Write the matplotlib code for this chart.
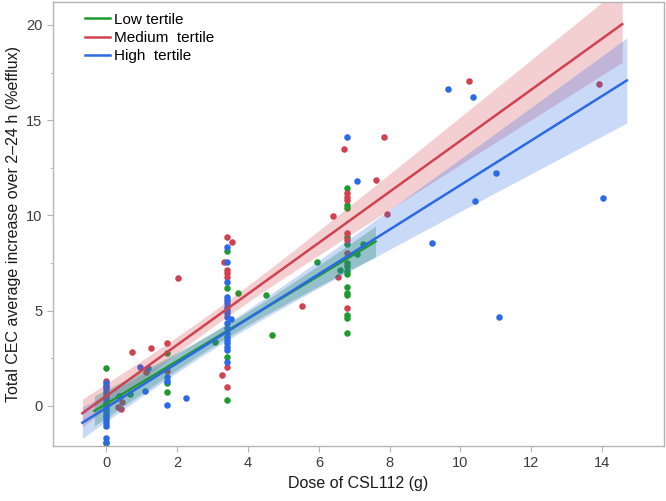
import numpy as np
import matplotlib
matplotlib.use("Agg")
import matplotlib.pyplot as plt
from matplotlib.ticker import MultipleLocator

plt.rcParams['font.family'] = ['Liberation Sans', 'DejaVu Sans']

# ---------------- data ----------------
low_x = [0, 0, 0.66, 1.7, 1.7, 1.7, 3.06, 3.4, 3.4, 3.73, 4.52, 4.69, 3.4, 3.4,
         5.94, 6.79, 6.79, 6.79, 6.79, 6.79, 7.24, 7.07, 6.79, 6.79, 6.6, 6.79,
         6.79, 6.79, 6.79, 6.79, 6.79, 6.79, 6.79]
low_y = [1.98, -1.96, 0.62, 2.77, 1.22, 0.73, 3.38, 8.15, 6.21, 5.93, 5.8, 3.73, 2.59, 0.31,
         7.55, 11.46, 10.55, 10.38, 8.89, 8.5, 8.5, 7.98, 7.49, 7.35, 7.14, 7.1,
         6.93, 6.23, 5.95, 5.81, 4.78, 4.6, 3.85]

med_x = [0, 0, 0.33, 0.41, 0.43, 0.73, 1.13, 1.26, 1.7, 1.7, 2.03, 3.4, 3.54, 3.32,
         3.4, 3.4, 3.4, 3.4, 3.25, 3.4, 5.51, 6.39, 6.7, 7.62, 7.84, 6.79, 6.79,
         6.79, 6.79, 6.79, 6.79, 6.55, 6.79, 7.92, 10.24, 13.9]
med_y = [1.3, 1.05, -0.03, -0.17, 0.19, 2.85, 1.76, 3.06, 3.32, 1.83, 6.74, 8.86, 8.61, 7.56,
         7.14, 6.97, 6.79, 2.03, 1.63, 1.01, 5.25, 9.97, 13.5, 11.88, 14.1, 11.16, 10.99,
         10.8, 9.07, 8.71, 8.05, 6.79, 5.13, 10.1, 17.06, 16.9]

high_x = [0] * 18 + [0.36, 0.95, 1.18, 1.08, 1.7, 1.7, 1.7, 2.25] + [3.4] * 19 + [3.52] + \
         [6.79, 7.07, 9.64, 10.35, 11.0, 10.4, 14.02, 9.2, 11.1]
high_y = [1.2, 1.05, 0.9, 0.75, 0.6, 0.45, 0.3, 0.15, 0.0, -0.15, -0.3, -0.45, -0.6,
          -0.75, -0.9, -1.05, -1.7, -1.87,
          0.53, 2.02, 2.0, 0.78, 1.54, 1.3, 0.07, 0.44,
          8.36, 7.56, 6.51, 5.71, 5.56, 5.39, 5.21, 5.04, 4.87, 4.69, 4.34, 4.08, 3.82,
          3.64, 3.46, 3.29, 3.11, 2.94, 2.33, 4.58,
          14.1, 11.8, 16.62, 16.24, 12.25, 10.76, 10.93, 8.54, 4.69]

labels = ["Low tertile", "Medium  tertile", "High  tertile"]
colors = ["#1f9a2e", "#d2414f", "#2b69e6"]

# fitted lines: intercept, slope, x-range, CI params (a, b, xbar)
fit_intercept = [0.12, 0.53, -0.086]
fit_slope = [1.12, 1.339, 1.168]
fit_xmin = [-0.34, -0.68, -0.68]
fit_xmax = [7.6, 14.57, 14.7]
ci_a = [0.12, 0.16, 0.2]
ci_b = [0.0325, 0.0287, 0.035]
ci_xbar = [3.6, 3.0, 3.0]

# ---------------- plot ----------------
fig = plt.figure(figsize=(6.66, 5.01), dpi=100)
ax = fig.add_axes([53 / 666, 55 / 501, 611 / 666, 444 / 501])

for xs, ys, c in [(low_x, low_y, colors[0]), (med_x, med_y, colors[1]), (high_x, high_y, colors[2])]:
    ax.scatter(xs, ys, s=22, color=c, zorder=1, linewidths=0)

band_alpha = [0.33, 0.25, 0.25]
band_colors = ["#2a8f6a", colors[1], colors[2]]
for i in [1, 2, 0]:
    xx = np.linspace(fit_xmin[i], fit_xmax[i], 200)
    yy = fit_intercept[i] + fit_slope[i] * xx
    hw = np.sqrt(ci_a[i] + ci_b[i] * (xx - ci_xbar[i]) ** 2)
    ax.fill_between(xx, yy - hw, yy + hw, color=band_colors[i], alpha=band_alpha[i],
                    linewidth=0, zorder=2)
for i in [0, 1, 2]:
    xx = np.array([fit_xmin[i], fit_xmax[i]])
    yy = fit_intercept[i] + fit_slope[i] * xx
    ax.plot(xx, yy, color=colors[i], lw=1.8, zorder=3, label=labels[i])

ax.set_xlim(-1.51, 15.75)
ax.set_ylim(-2.1, 21.2)
ax.set_xticks([0, 2, 4, 6, 8, 10, 12, 14])
ax.set_yticks([0, 5, 10, 15, 20])
ax.yaxis.set_minor_locator(MultipleLocator(2.5))

for sp in ax.spines.values():
    sp.set_color("#b4b4b4")
    sp.set_linewidth(1.0)
ax.tick_params(axis="both", which="major", colors="#b4b4b4", labelcolor="#3c3c3c",
               labelsize=10.5, length=4, direction="out")
ax.tick_params(axis="y", which="minor", colors="#b4b4b4", length=2.5)

ax.set_xlabel("Dose of CSL112 (g)", fontsize=11.5, color="#1a1a1a", labelpad=4)
ax.set_ylabel("Total CEC average increase over 2\u201324 h (%efflux)", fontsize=11.5,
              color="#1a1a1a", labelpad=4)

leg = ax.legend(loc="upper left", frameon=False, fontsize=11, handlelength=1.6,
                handletextpad=0.3, labelspacing=0.28, borderaxespad=0.3,
                bbox_to_anchor=(0.035, 1.0))

fig.savefig("out.png", dpi=100)
